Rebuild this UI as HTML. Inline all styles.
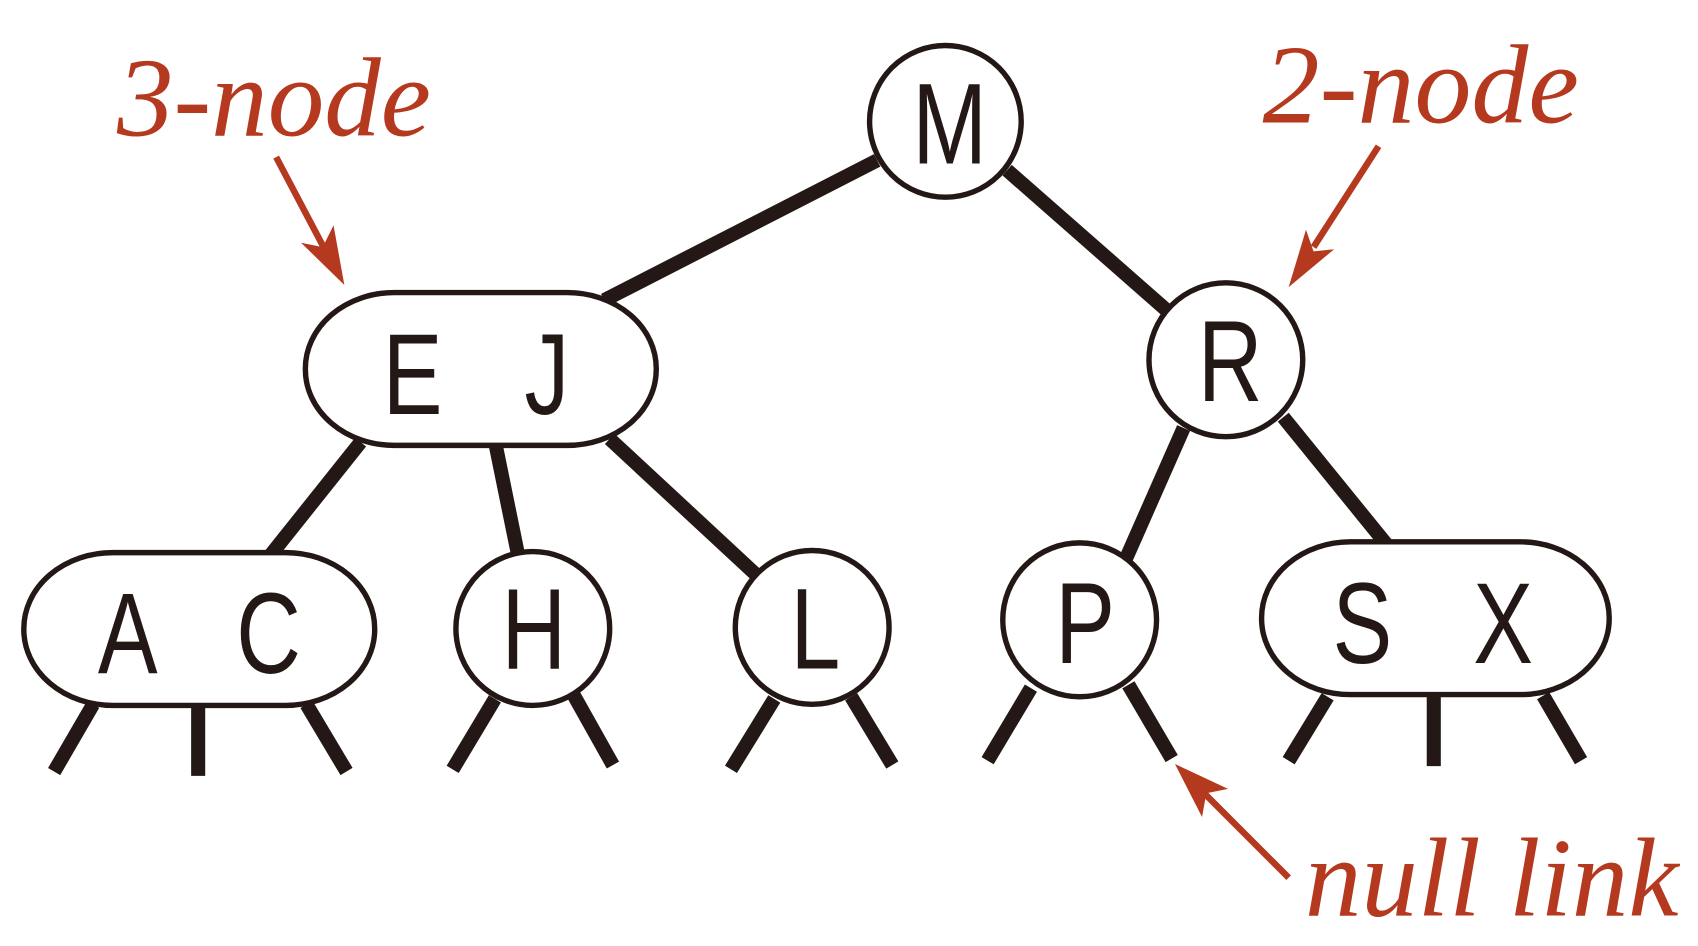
<!DOCTYPE html>
<html><head><meta charset="utf-8"><style>
html,body{margin:0;padding:0;background:#fff;width:1698px;height:946px;overflow:hidden}
svg{display:block}
.n{fill:#fff;stroke:#231815;stroke-width:5}
.e{stroke:#231815;stroke-width:13;fill:none}
.k{font-family:"Liberation Sans",sans-serif;font-size:106px;fill:#231815;text-anchor:middle}
.r{font-family:"Liberation Serif",serif;font-style:italic;font-size:104px;fill:#b5391f}
.a{stroke:#b5391f;stroke-width:6;fill:none}
</style></head><body>
<svg width="1698" height="946" viewBox="0 0 1568 873" preserveAspectRatio="none">
<g class="e">
<line x1="810" y1="148" x2="558" y2="277"/>
<line x1="930" y1="157" x2="1077" y2="286"/>
<line x1="333" y1="408" x2="250" y2="512"/>
<line x1="458" y1="412" x2="478" y2="510"/>
<line x1="563" y1="405" x2="700" y2="532"/>
<line x1="1093" y1="395" x2="1040" y2="515"/>
<line x1="1185" y1="385" x2="1280" y2="502"/>
<line x1="86" y1="650" x2="50" y2="712"/>
<line x1="183" y1="652" x2="183" y2="716"/>
<line x1="283" y1="650" x2="320" y2="712"/>
<line x1="457" y1="645" x2="418" y2="710"/>
<line x1="529" y1="640" x2="566" y2="706"/>
<line x1="715" y1="645" x2="675" y2="710"/>
<line x1="786" y1="643" x2="824" y2="706"/>
<line x1="952" y1="635" x2="912" y2="702"/>
<line x1="1042" y1="632" x2="1082" y2="700"/>
<line x1="1226" y1="643" x2="1190" y2="702"/>
<line x1="1324" y1="642" x2="1324" y2="707"/>
<line x1="1425" y1="642" x2="1460" y2="702"/>
</g>
<circle class="n" cx="873" cy="112" r="70"/>
<rect class="n" x="282" y="270" width="324" height="141" rx="82" ry="70"/>
<circle class="n" cx="1132" cy="332" r="71"/>
<rect class="n" x="22" y="510" width="324" height="141" rx="82" ry="70"/>
<circle class="n" cx="492" cy="580" r="71"/>
<circle class="n" cx="750" cy="579" r="71"/>
<circle class="n" cx="997" cy="572" r="71"/>
<rect class="n" x="1165" y="500" width="321" height="141" rx="82" ry="70"/>
<text class="k" transform="translate(877,151) scale(0.78,1)">M</text>
<text class="k" transform="translate(381,382) scale(0.78,1)">E</text>
<text class="k" transform="translate(505,382) scale(0.78,1)">J</text>
<text class="k" transform="translate(1136,370) scale(0.78,1)">R</text>
<text class="k" transform="translate(118,621) scale(0.78,1)">A</text>
<text class="k" transform="translate(248,621) scale(0.78,1)">C</text>
<text class="k" transform="translate(493,617) scale(0.78,1)">H</text>
<text class="k" transform="translate(753,617) scale(0.78,1)">L</text>
<text class="k" transform="translate(1002,612) scale(0.78,1)">P</text>
<text class="k" transform="translate(1258,612) scale(0.78,1)">S</text>
<text class="k" transform="translate(1388,612) scale(0.78,1)">X</text>
<text class="r" x="108" y="125" textLength="290" lengthAdjust="spacingAndGlyphs">3-node</text>
<text class="r" x="1166" y="113" textLength="292" lengthAdjust="spacingAndGlyphs">2-node</text>
<text class="r" x="1205" y="845" textLength="345" lengthAdjust="spacingAndGlyphs">null link</text>
<line class="a" x1="255" y1="145" x2="303" y2="236"/>
<polygon fill="#b5391f" points="318,263 278,224 298,228 308,208"/>
<line class="a" x1="1273" y1="135" x2="1213" y2="228"/>
<polygon fill="#b5391f" points="1190,265 1206,212 1213,232 1232,230"/>
<line class="a" x1="1190" y1="810" x2="1108" y2="728"/>
<polygon fill="#b5391f" points="1085,705 1134,728 1114,732 1110,754"/>
</svg>
</body></html>
